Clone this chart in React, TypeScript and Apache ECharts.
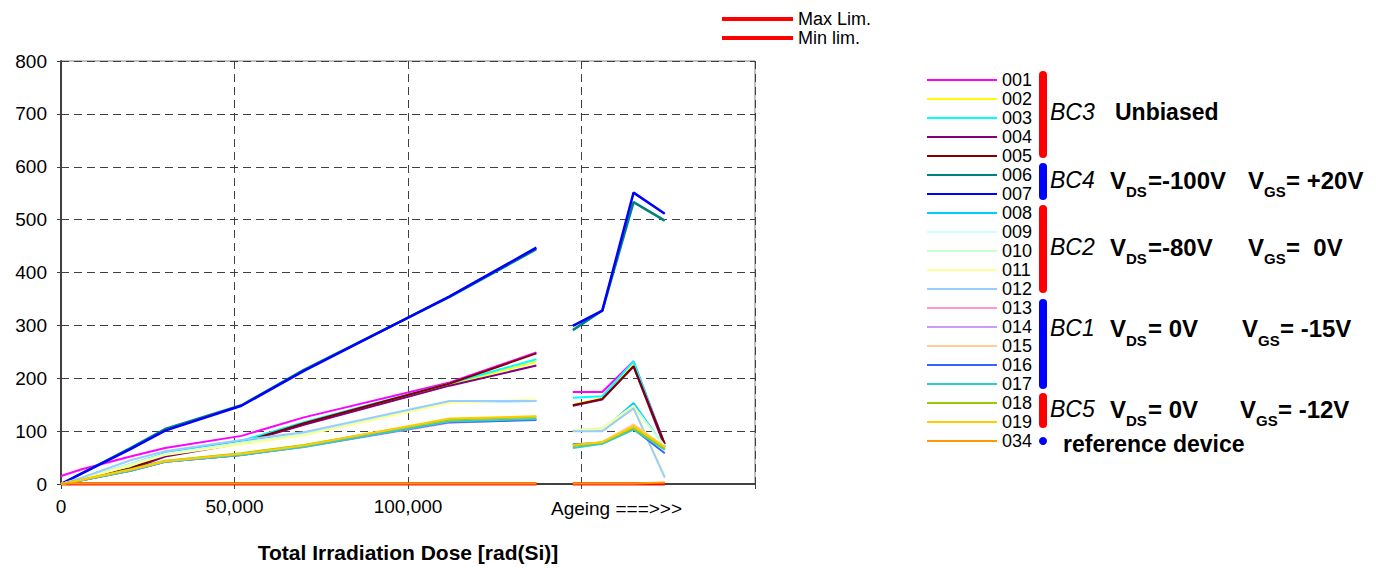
import React, { useEffect, useRef } from "react";
import * as echarts from "echarts";

// Irradiation dose points and ageing points (x values)
const doseX = [0, 6000, 20000, 30000, 52000, 70000, 112000, 137000];
const ageX = [147500, 156000, 165000, 174000];
const gapX = 142000;

const xTickLabels = ["0", "50,000", "100,000"];
const yTicks = [0, 100, 200, 300, 400, 500, 600, 700, 800];

// Values: 8 irradiation points followed by 4 ageing points
const v001 = [15, 28, 52, 68, 91, 126, 192, 249, 174, 174, 232, 75];
const v002 = [0, 8, 28, 53, 78, 113, 188, 231, 150, 162, 225, 72];
const v003 = [0, 10, 35, 58, 82, 117, 190, 236, 163, 166, 232, 74];
const v004 = [0, 8, 28, 52, 77, 112, 186, 224, 148, 160, 222, 70];
const v005 = [0, 8, 30, 55, 78, 115, 190, 247, 149, 161, 223, 76];
const v006 = [0, 20, 68, 104, 149, 216, 354, 444, 291, 328, 533, 498];
const v007 = [0, 20, 66, 101, 148, 214, 355, 447, 299, 328, 551, 511];
const v008 = [0, 10, 38, 58, 80, 96, 156, 157, 100, 101, 153, 70];
const v009 = [0, 10, 38, 57, 78, 95, 155, 158, 101, 103, 147, 72];
const v010 = [0, 10, 37, 56, 78, 94, 155, 157, 102, 106, 148, 70];
const v011 = [0, 9, 35, 55, 75, 92, 153, 160, 101, 104, 148, 15];
const v012 = [0, 12, 45, 62, 83, 98, 157, 157, 100, 100, 143, 12];
const v013 = [0, 7, 25, 42, 55, 70, 116, 122, 73, 78, 112, 68];
const v014 = [0, 7, 25, 42, 55, 71, 117, 123, 74, 78, 110, 66];
const v015 = [0, 7, 26, 43, 56, 72, 119, 124, 75, 79, 113, 70];
const v016 = [0, 7, 25, 42, 55, 71, 117, 121, 75, 77, 104, 58];
const v017 = [0, 7, 25, 42, 55, 70, 118, 123, 68, 76, 103, 65];
const v018 = [0, 8, 28, 44, 58, 74, 122, 127, 72, 79, 106, 67];
const v019 = [0, 8, 27, 43, 57, 73, 124, 128, 74, 79, 109, 70];
const v034 = [1, 1, 1, 1, 1, 1, 1, 1, 1, 1, 1, 3];
const vMax = [0, 0, 0, 0, 0, 0, 0, 0, 0, 0, 0, 0];
const vMin = [0, 0, 0, 0, 0, 0, 0, 0, 0, 0, 0, 0];

const deviceNames = ["001", "002", "003", "004", "005", "006", "007", "008", "009", "010", "011", "012", "013", "014", "015", "016", "017", "018", "019", "034"];
const deviceValues = [v001, v002, v003, v004, v005, v006, v007, v008, v009, v010, v011, v012, v013, v014, v015, v016, v017, v018, v019, v034];
const deviceColors = ["#FF00FF", "#FFFF00", "#00FFFF", "#800080", "#800000", "#008080", "#0000FF", "#00CCFF", "#CCFFFF", "#CCFFCC", "#FFFF99", "#99CCFF", "#FF99CC", "#CC99FF", "#FFCC99", "#3366FF", "#33CCCC", "#99CC00", "#FFCC00", "#FF9900"];
const limitNames = ["Max Lim.", "Min lim."];
const limitValues = [vMax, vMin];

const FONT = "'Liberation Sans', Arial, sans-serif";

function toData(vals: number[]) {
  const d: any[] = doseX.map((x, i) => [x, vals[i]]);
  d.push([gapX, "-"]);
  ageX.forEach((x, i) => d.push([x, vals[doseX.length + i]]));
  return d;
}

function txt(text: string, x: number, y: number, size: number, opts: any = {}) {
  return {
    type: "text",
    x,
    y,
    silent: true,
    style: {
      text,
      fontSize: size,
      fontFamily: FONT,
      fill: "#000",
      verticalAlign: "middle",
      align: "left",
      ...opts,
    },
  };
}

function biasRow(y: number, ySub: number, xDs: number, xGs: number, parts: string[]) {
  // V_DS = ...   V_GS = ...
  const vw = 16;
  const sw = 21;
  return [
    txt("V", xDs, y, 24, { fontWeight: "bold" }),
    txt("DS", xDs + vw, ySub, 15, { fontWeight: "bold" }),
    txt(parts[0], xDs + vw + sw + 1, y, 24, { fontWeight: "bold" }),
    txt("V", xGs, y, 24, { fontWeight: "bold" }),
    txt("GS", xGs + vw, ySub, 15, { fontWeight: "bold" }),
    txt(parts[1], xGs + vw + sw + 1, y, 24, { fontWeight: "bold" }),
  ];
}

export default function App() {
  const ref = useRef<HTMLDivElement>(null);
  useEffect(() => {
    if (!ref.current) return;
    const chart = echarts.init(ref.current, undefined, { renderer: "svg" });

    const series: any[] = [];
    limitNames.forEach((n, i) => {
      series.push({
        name: n,
        type: "line",
        symbol: "none",
        data: toData(limitValues[i]),
        color: "#FF0000",
        lineStyle: { width: 3, color: "#FF0000" },
      });
    });
    deviceNames.forEach((n, i) => {
      series.push({
        name: n,
        type: "line",
        symbol: "none",
        data: toData(deviceValues[i]),
        color: deviceColors[i],
        lineStyle: { width: i === 5 || i === 6 ? 2.5 : 2, color: deviceColors[i] },
      });
    });

    const bars = [
      { y: 71, h: 87, c: "#FF0000" },
      { y: 163, h: 37, c: "#0000FF" },
      { y: 205, h: 88, c: "#FF0000" },
      { y: 299, h: 90, c: "#0000FF" },
      { y: 393, h: 35, c: "#FF0000" },
    ];

    const graphic: any[] = [];
    bars.forEach((b) =>
      graphic.push({
        type: "rect",
        silent: true,
        shape: { x: 1039, y: b.y, width: 8, height: b.h, r: 4 },
        style: { fill: b.c },
      })
    );
    graphic.push({ type: "circle", silent: true, shape: { cx: 1043, cy: 441, r: 4 }, style: { fill: "#0000FF" } });

    graphic.push(txt("BC3", 1050, 112, 23, { fontStyle: "italic" }));
    graphic.push(txt("Unbiased", 1115, 112, 23, { fontWeight: "bold" }));
    graphic.push(txt("BC4", 1050, 180, 23, { fontStyle: "italic" }));
    graphic.push(...biasRow(180, 191, 1110, 1248, ["=-100V", "= +20V"]));
    graphic.push(txt("BC2", 1050, 247, 23, { fontStyle: "italic" }));
    graphic.push(...biasRow(247, 258, 1110, 1248, ["=-80V", "=  0V"]));
    graphic.push(txt("BC1", 1050, 328, 23, { fontStyle: "italic" }));
    graphic.push(...biasRow(328, 340, 1110, 1242, ["= 0V", "= -15V"]));
    graphic.push(txt("BC5", 1050, 409, 23, { fontStyle: "italic" }));
    graphic.push(...biasRow(409, 420, 1110, 1240, ["= 0V", "= -12V"]));
    graphic.push(txt("reference device", 1063, 444, 23, { fontWeight: "bold" }));
    graphic.push(txt("Ageing ===>>>", 551, 508, 19, {}));

    chart.setOption({
      animation: false,
      backgroundColor: "#FFFFFF",
      textStyle: { fontFamily: FONT },
      grid: {
        left: 61,
        top: 61,
        width: 694,
        height: 424,
        show: true,
        borderColor: "#808080",
        borderWidth: 1,
        backgroundColor: "transparent",
      },
      legend: [
        {
          data: limitNames,
          orient: "vertical",
          left: 717,
          top: 5,
          itemWidth: 71,
          itemHeight: 4,
          icon: "rect",
          itemGap: 1,
          selectedMode: false,
          textStyle: { fontSize: 18, lineHeight: 16, color: "#000", fontFamily: FONT },
        },
        {
          data: deviceNames,
          orient: "vertical",
          left: 922,
          top: 66,
          itemWidth: 70,
          itemHeight: 2,
          icon: "rect",
          itemGap: 1,
          selectedMode: false,
          textStyle: { fontSize: 18, lineHeight: 16, color: "#000", fontFamily: FONT },
        },
      ],
      xAxis: {
        type: "value",
        min: 0,
        max: 200000,
        interval: 50000,
        name: "Total Irradiation Dose [rad(Si)]",
        nameLocation: "middle",
        nameGap: 58,
        nameTextStyle: { fontSize: 21, fontWeight: "bold", color: "#000", fontFamily: FONT },
        axisLine: { show: true, lineStyle: { color: "#404040", width: 2 } },
        axisTick: { show: true, length: 5, lineStyle: { color: "#404040" } },
        axisLabel: {
          fontSize: 19,
          color: "#000",
          margin: 13,
          fontFamily: FONT,
          formatter: (v: number) => xTickLabels[Math.round(v / 50000)] ?? "",
        },
        splitLine: { show: true, lineStyle: { type: [8, 5], color: "#404040", width: 1 } },
      },
      yAxis: {
        type: "value",
        min: yTicks[0],
        max: yTicks[yTicks.length - 1],
        interval: 100,
        axisLine: { show: true, lineStyle: { color: "#404040", width: 2 } },
        axisTick: { show: true, length: 4, lineStyle: { color: "#404040" } },
        axisLabel: { fontSize: 19, color: "#000", margin: 14, fontFamily: FONT },
        splitLine: { show: true, lineStyle: { type: [8, 5], color: "#404040", width: 1 } },
      },
      series,
      graphic,
    });
    return () => chart.dispose();
  }, []);
  return (
    <div
      ref={ref}
      style={{ position: "fixed", left: 0, top: 0, width: 1376, height: 568, background: "#fff" }}
    />
  );
}
